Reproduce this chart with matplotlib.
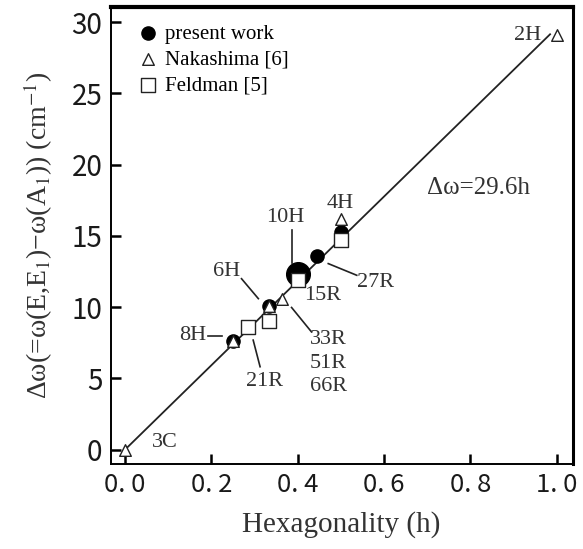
import numpy as np
import matplotlib.pyplot as plt

# present work (filled circles)
h_pw = [0.25, 0.333, 0.444, 0.5]
dw_pw = [7.6, 10.1, 13.6, 15.3]
h_pw_big = [0.4]          # 10H / 15R blob
dw_pw_big = [12.3]

# Nakashima [6] (open triangles)
h_nk = [0.0, 0.25, 0.333, 0.364, 0.5, 1.0]
dw_nk = [0.0, 7.6, 10.1, 10.6, 16.2, 29.1]

# Feldman [5] (open squares)
h_fd = [0.286, 0.333, 0.4, 0.5]
dw_fd = [8.6, 9.0, 11.9, 14.7]

slope = 29.6

serif = 'Liberation Serif'
plt.rcParams['mathtext.fontset'] = 'stix'

fig = plt.figure(figsize=(5.83, 5.49), dpi=100)
ax = fig.add_axes([0.19, 0.155, 0.792, 0.833])

hx = np.array([0.0, 0.985])
ax.plot(hx, slope * hx, color='#222222', lw=1.3, zorder=1)

ax.scatter(h_pw, dw_pw, s=90, c='black', marker='o', zorder=3, label='present work')
ax.scatter(h_pw_big, dw_pw_big, s=290, c='black', marker='o', zorder=3)
ax.scatter(h_nk, dw_nk, s=70, facecolors='white', edgecolors='#222222', marker='^',
           linewidths=1.0, zorder=4, label='Nakashima [6]')
ax.scatter(h_fd, dw_fd, s=90, facecolors='white', edgecolors='#222222', marker='s',
           linewidths=1.0, zorder=4, label='Feldman [5]')

ax.set_xlim(-0.033, 1.037)
ax.set_ylim(-1.0, 31.1)
ax.set_xticks([0.0, 0.2, 0.4, 0.6, 0.8, 1.0])
ax.set_xticklabels(['0. 0', '0. 2', '0. 4', '0. 6', '0. 8', '1. 0'])
ax.set_yticks([0, 5, 10, 15, 20, 25, 30])
ax.tick_params(direction='in', length=7, width=1.8, pad=6)
ax.tick_params(axis='y', labelsize=20)
ax.tick_params(axis='x', labelsize=18.5)
for lab in ax.get_xticklabels() + ax.get_yticklabels():
    lab.set_family('Noto Sans CJK JP')
    lab.set_color('#1a1a1a')

for sp in ax.spines.values():
    sp.set_linewidth(1.4)
ax.spines['top'].set_linewidth(3.0)
ax.spines['right'].set_linewidth(2.2)

ax.set_xlabel('Hexagonality (h)', family=serif, fontsize=21, color='#333333', labelpad=9)
ax.set_ylabel('Δω(=ω(E,E$_1$)−ω(A$_1$)) (cm$^{-1}$)',
              family=serif, fontsize=20, color='#333333', labelpad=12)

leg = ax.legend(loc='upper left', bbox_to_anchor=(0.04, 0.98), frameon=False,
                prop={'family': serif, 'size': 15}, handletextpad=0.3,
                labelspacing=0.3, handlelength=1.0, borderaxespad=0.0)

tk = dict(family=serif, fontsize=16, color='#333333')
ax.text(0.965, 29.1, '2H', ha='right', va='center', **tk)
ax.text(0.498, 17.3, '4H', ha='center', va='center', **tk)
ax.text(0.371, 16.3, '10H', ha='center', va='center', **tk)
ax.text(0.236, 12.5, '6H', ha='center', va='center', **tk)
ax.text(0.188, 8.0, '8H', ha='right', va='center', **tk)
ax.text(0.324, 4.8, '21R', ha='center', va='center', **tk)
ax.text(0.459, 10.8, '15R', ha='center', va='center', **tk)
ax.text(0.471, 7.7, '33R', ha='center', va='center', **tk)
ax.text(0.471, 6.05, '51R', ha='center', va='center', **tk)
ax.text(0.471, 4.4, '66R', ha='center', va='center', **tk)
ax.text(0.537, 11.7, '27R', ha='left', va='center', **tk)
ax.text(0.093, 0.5, '3C', ha='center', va='center', **tk)
ax.text(0.70, 18.4, 'Δω=29.6h', ha='left', va='center',
        family=serif, fontsize=18, color='#333333')

lk = dict(color='#222222', lw=1.2, zorder=2)
ax.plot([0.386, 0.386], [15.4, 13.1], **lk)
ax.plot([0.270, 0.309], [12.0, 10.6], **lk)
ax.plot([0.192, 0.224], [7.97, 7.97], **lk)
ax.plot([0.297, 0.313], [7.69, 5.82], **lk)
ax.plot([0.386, 0.432], [9.98, 8.27], **lk)
ax.plot([0.471, 0.537], [13.06, 12.24], **lk)

fig.savefig('out.png', dpi=100)
